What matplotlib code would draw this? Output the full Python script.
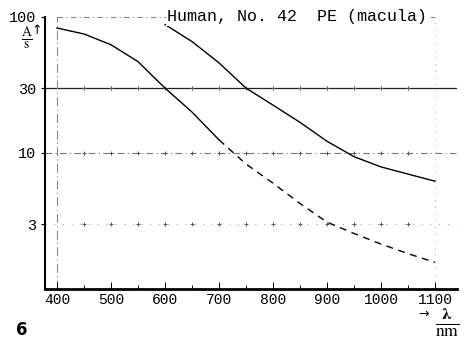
import numpy as np
import matplotlib
matplotlib.use('Agg')
import matplotlib.pyplot as plt

# data (wavelength in nm, A/s on log scale)
wl_left = [400, 450, 500, 550, 600, 650, 700]
a_left = [83, 75, 62.5, 47, 30, 20, 12.5]

wl_left_dash = [700, 750, 800, 850, 900, 950, 1000, 1050, 1100]
a_left_dash = [12.5, 8.3, 6.0, 4.25, 3.1, 2.56, 2.14, 1.82, 1.57]

wl_right = [600, 650, 700, 750, 800, 850, 900, 950, 1000, 1050, 1100]
a_right = [88, 66, 46, 30, 22.5, 16.8, 12.2, 9.4, 7.9, 7.0, 6.2]

x_ticks = [400, 500, 600, 700, 800, 900, 1000, 1100]
y_ticks = [3, 10, 30, 100]
y_labels = ['3', '10', '30', '100']
title_text = 'Human, No. 42  PE (macula)'

W, H = 466, 343
mono = 'Liberation Mono'
plt.rcParams['mathtext.fontset'] = 'stix'

fig = plt.figure(figsize=(W / 100, H / 100), dpi=100)
ax = fig.add_axes([45 / W, 1 - 289 / H, 412 / W, 272 / H])

# grid-like reference lines
ax.axhline(30, color='#222222', lw=0.9, zorder=1)
ax.axhline(10, color='#777777', lw=0.8, ls=(0, (6, 3, 1, 3)), zorder=1)
ax.axhline(3, color='#999999', lw=0.7, ls=(0, (1, 8)), zorder=1)
ax.plot([400, 1100], [100, 100], color='#888888', lw=0.8, ls=(0, (5, 3, 1, 3)), zorder=1, clip_on=False)
ax.axvline(400, color='#888888', lw=0.8, ls=(0, (8, 3, 1, 3)), zorder=1)
ax.axvline(1100, color='#aaaaaa', lw=0.7, ls=(0, (1, 6)), zorder=1)
minor_x = np.arange(450, 1100, 50)
for yv in y_ticks[:3]:
    ax.plot(minor_x, [yv] * len(minor_x), '+', color='#555555', ms=3, mew=0.7, zorder=1)

# curves
ax.plot(wl_left, a_left, color='black', lw=1.0, zorder=3)
ax.plot(wl_left_dash, a_left_dash, color='black', lw=1.0, ls=(0, (5, 4)), zorder=3)
ax.plot(wl_right, a_right, color='black', lw=1.0, zorder=3)

ax.set_yscale('log')
ax.set_xlim(377.8, 1140.7)
ax.set_ylim(1, 100)

ax.set_xticks(x_ticks)
ax.set_xticklabels([str(v) for v in x_ticks], fontfamily=mono, fontsize=10.5)
ax.set_xticks(minor_x, minor=True)
ax.set_yticks(y_ticks)
ax.set_yticklabels(y_labels, fontfamily=mono, fontsize=11)
ax.yaxis.set_minor_locator(matplotlib.ticker.NullLocator())
ax.tick_params(axis='x', which='major', direction='in', length=5, width=0.7, pad=3)
ax.tick_params(axis='x', which='minor', direction='in', length=3, width=0.7)
ax.tick_params(axis='y', which='major', direction='out', length=3, width=0.8, pad=3)

for side in ['top', 'right']:
    ax.spines[side].set_visible(False)
ax.spines['left'].set_linewidth(1.5)
ax.spines['bottom'].set_linewidth(2.0)

# title inside the frame, interrupting the top line
ax.text(1086, 100, title_text, fontfamily=mono, fontsize=12, ha='right', va='center',
        bbox=dict(facecolor='white', edgecolor='none', pad=1), zorder=4, clip_on=False)

# axis labels
fig.text(27 / W, 1 - 38 / H, r'$\frac{\mathrm{A}}{\mathrm{s}}$', fontsize=14, ha='center', va='center')
fig.text(37 / W, 1 - 31 / H, '\u2191', fontsize=9, ha='center', va='center')
fig.text(424 / W, 1 - 314 / H, '\u2192', fontsize=9, ha='center', va='center')
fig.text(447 / W, 1 - 323 / H, r'$\frac{\mathbf{\lambda}}{\mathrm{nm}}$', fontsize=18, ha='center', va='center')
fig.text(22 / W, 1 - 330 / H, '6', fontsize=12, fontweight='bold', ha='center', va='center')

fig.savefig('out.png', dpi=100)
